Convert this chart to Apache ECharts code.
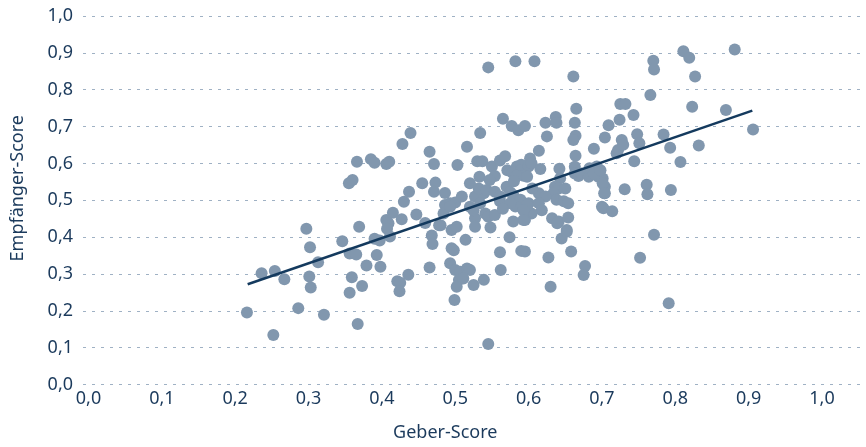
<!DOCTYPE html>
<html><head><meta charset="utf-8">
<script src="https://cdn.jsdelivr.net/npm/echarts@6/dist/echarts.min.js"></script>
<style>html,body{margin:0;padding:0;background:#fff}#c{width:866px;height:447px}</style>
</head><body><div id="c"></div>
<script>
const xTickLabels = ['0,0','0,1','0,2','0,3','0,4','0,5','0,6','0,7','0,8','0,9','1,0'];
const xTitle = 'Geber-Score';
const yTitle = 'Empfänger-Score';
const geber = [0.216,0.236,0.252,0.254,0.267,0.286,0.297,0.302,0.301,0.303,0.313,0.321,0.346,0.355,0.36,0.366,0.369,0.356,0.365,0.359,0.356,0.373,0.367,0.385,0.39,0.406,0.41,0.379,0.393,0.398,0.39,0.397,0.406,0.409,0.407,0.411,0.415,0.427,0.421,0.425,0.424,0.436,0.428,0.439,0.43,0.437,0.447,0.455,0.459,0.465,0.471,0.473,0.471,0.468,0.469,0.465,0.478,0.486,0.5,0.509,0.486,0.493,0.484,0.493,0.495,0.502,0.495,0.498,0.514,0.493,0.5,0.507,0.516,0.52,0.505,0.502,0.511,0.525,0.539,0.499,0.545,0.545,0.582,0.608,0.661,0.503,0.516,0.534,0.53,0.537,0.533,0.52,0.55,0.554,0.561,0.568,0.565,0.577,0.586,0.595,0.571,0.578,0.584,0.59,0.59,0.6,0.593,0.584,0.602,0.604,0.598,0.614,0.616,0.623,0.637,0.638,0.625,0.642,0.643,0.636,0.641,0.65,0.634,0.638,0.648,0.654,0.614,0.623,0.6,0.614,0.618,0.604,0.595,0.632,0.641,0.654,0.652,0.645,0.595,0.627,0.658,0.677,0.675,0.63,0.527,0.527,0.541,0.545,0.554,0.548,0.52,0.527,0.539,0.532,0.543,0.554,0.561,0.57,0.579,0.589,0.598,0.582,0.561,0.575,0.593,0.579,0.593,0.574,0.561,0.59,0.562,0.525,0.534,0.48,0.663,0.665,0.664,0.661,0.664,0.663,0.668,0.663,0.672,0.682,0.686,0.693,0.695,0.701,0.704,0.704,0.7,0.702,0.714,0.689,0.704,0.709,0.724,0.725,0.732,0.72,0.722,0.727,0.729,0.743,0.748,0.751,0.744,0.731,0.761,0.762,0.794,0.771,0.752,0.791,0.766,0.77,0.771,0.811,0.819,0.827,0.881,0.823,0.869,0.784,0.793,0.832,0.906,0.807,0.683,0.689,0.698,0.701,0.703,0.639,0.652,0.547,0.58,0.575,0.605,0.565];
const empfaenger = [0.192,0.299,0.131,0.305,0.283,0.204,0.42,0.37,0.29,0.26,0.329,0.186,0.386,0.544,0.553,0.603,0.426,0.353,0.35,0.288,0.246,0.264,0.161,0.61,0.6,0.597,0.603,0.32,0.349,0.317,0.393,0.388,0.444,0.435,0.42,0.399,0.464,0.446,0.277,0.273,0.25,0.295,0.651,0.681,0.494,0.521,0.459,0.544,0.436,0.63,0.597,0.546,0.521,0.402,0.379,0.315,0.43,0.518,0.492,0.508,0.485,0.49,0.462,0.48,0.417,0.426,0.367,0.362,0.39,0.326,0.308,0.303,0.312,0.308,0.281,0.262,0.285,0.267,0.281,0.226,0.106,0.86,0.877,0.877,0.835,0.594,0.644,0.681,0.604,0.604,0.562,0.544,0.59,0.564,0.606,0.618,0.72,0.7,0.689,0.7,0.58,0.573,0.59,0.595,0.58,0.59,0.565,0.565,0.612,0.599,0.562,0.633,0.583,0.709,0.725,0.709,0.672,0.584,0.558,0.535,0.53,0.53,0.517,0.499,0.495,0.49,0.517,0.508,0.49,0.49,0.471,0.462,0.444,0.449,0.44,0.451,0.417,0.394,0.358,0.342,0.358,0.319,0.294,0.262,0.449,0.426,0.462,0.453,0.458,0.424,0.48,0.508,0.517,0.53,0.526,0.521,0.508,0.535,0.512,0.499,0.485,0.481,0.495,0.49,0.471,0.44,0.444,0.397,0.356,0.36,0.308,0.471,0.49,0.43,0.709,0.747,0.674,0.662,0.619,0.589,0.564,0.571,0.571,0.562,0.58,0.59,0.562,0.557,0.535,0.517,0.48,0.476,0.468,0.638,0.669,0.702,0.717,0.76,0.76,0.626,0.635,0.662,0.649,0.73,0.678,0.653,0.604,0.528,0.54,0.514,0.526,0.404,0.341,0.217,0.785,0.878,0.854,0.904,0.886,0.835,0.909,0.753,0.744,0.677,0.641,0.647,0.691,0.602,0.585,0.571,0.58,0.544,0.517,0.435,0.412,0.553,0.55,0.52,0.53,0.475];
const trendX = [0.217, 0.905];
const trendY = [0.269, 0.742];

const points = geber.map((g, i) => [g, empfaenger[i]]);
const trend = trendX.map((t, i) => [t, trendY[i]]);
const fmt = v => xTickLabels[Math.round(v * 10)] || '';
const txt = '#1b3a5c';
const font = 'Noto Sans';

const chart = echarts.init(document.getElementById('c'), null, {renderer: 'canvas'});
chart.setOption({
  animation: false,
  backgroundColor: '#fff',
  textStyle: {fontFamily: font},
  grid: [
    {left: 83, right: 0, top: 16, bottom: 62.5},
    {left: 88.5, width: 733.5, top: 16, bottom: 62.5}
  ],
  xAxis: [
    {gridIndex: 0, type: 'value', min: 0, max: 1, show: false},
    {gridIndex: 1, type: 'value', min: 0, max: 1, interval: 0.1,
     axisLine: {show: false}, axisTick: {show: false}, splitLine: {show: false},
     axisLabel: {formatter: fmt, color: txt, fontSize: 18, fontFamily: font, margin: 7},
     name: xTitle, nameLocation: 'middle', nameGap: 41,
     nameTextStyle: {color: txt, fontSize: 18, fontFamily: font, padding: [0, 20, 0, 0]}}
  ],
  yAxis: [
    {gridIndex: 0, type: 'value', min: 0, max: 1, interval: 0.1,
     axisLine: {show: false}, axisTick: {show: false},
     splitLine: {show: true, lineStyle: {color: '#9fb1c4', type: [3, 6], width: 1}},
     axisLabel: {formatter: fmt, color: txt, fontSize: 18, fontFamily: font, margin: 10},
     name: yTitle, nameLocation: 'middle', nameGap: 56, nameRotate: 90,
     nameTextStyle: {color: txt, fontSize: 18, fontFamily: font, padding: [0, 0, 0, 24]}},
    {gridIndex: 1, type: 'value', min: 0, max: 1, show: false}
  ],
  series: [
    {type: 'scatter', xAxisIndex: 1, yAxisIndex: 1, data: points, symbolSize: 12,
     itemStyle: {color: '#8197ae', opacity: 1}, silent: true},
    {type: 'line', xAxisIndex: 1, yAxisIndex: 1, data: trend, symbol: 'none',
     lineStyle: {color: '#143a5e', width: 2.5}, silent: true, z: 3}
  ]
});
</script></body></html>
